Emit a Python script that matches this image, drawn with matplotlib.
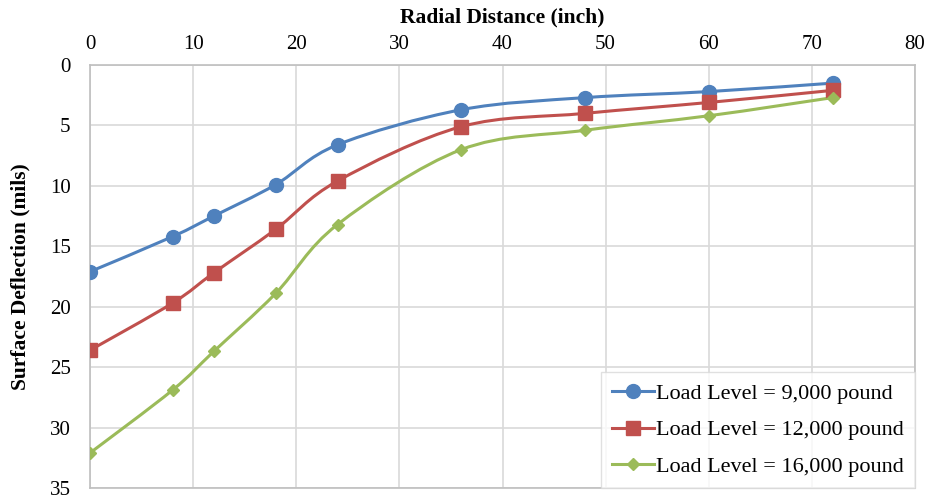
import matplotlib
matplotlib.use("Agg")
import matplotlib.pyplot as plt
from matplotlib.path import Path
from matplotlib.patches import PathPatch
from matplotlib.lines import Line2D
import numpy as np

radial = [0, 8, 12, 18, 24, 36, 48, 60, 72]
load_9000 = [17.1, 14.2, 12.5, 9.9, 6.6, 3.7, 2.7, 2.2, 1.5]
load_12000 = [23.6, 19.7, 17.2, 13.6, 9.6, 5.1, 4.0, 3.1, 2.1]
load_16000 = [32.1, 26.9, 23.7, 18.9, 13.2, 7.0, 5.4, 4.2, 2.7]
labels = ["Load Level = 9,000 pound", "Load Level = 12,000 pound", "Load Level = 16,000 pound"]
colors = ["#4F81BD", "#C0504D", "#9BBB59"]
markers = ["o", "s", "D"]
msizes = [10, 9.5, 6.5]

plt.rcParams['font.family'] = ['Liberation Serif', 'DejaVu Serif']

fig = plt.figure(figsize=(9.27, 4.96), dpi=100)
ax = fig.add_axes([90/927, 1-488/496, (915-90)/927, (488-65)/496])


def smooth_path(x, y):
    x = np.asarray(x, float); y = np.asarray(y, float)
    n = len(x)
    verts = [(x[0], y[0])]
    codes = [Path.MOVETO]
    for i in range(n - 1):
        p0 = np.array([x[max(i-1, 0)], y[max(i-1, 0)]])
        p1 = np.array([x[i], y[i]])
        p2 = np.array([x[i+1], y[i+1]])
        p3 = np.array([x[min(i+2, n-1)], y[min(i+2, n-1)]])
        c1 = p1 + (p2 - p0) / 6.0
        c2 = p2 - (p3 - p1) / 6.0
        verts += [tuple(c1), tuple(c2), tuple(p2)]
        codes += [Path.CURVE4] * 3
    return Path(verts, codes)


handles = []
for ys, c, m, ms, lab in zip([load_9000, load_12000, load_16000], colors, markers, msizes, labels):
    patch = PathPatch(smooth_path(radial, ys), facecolor='none', edgecolor=c, lw=2.2, zorder=3)
    ax.add_patch(patch)
    ax.plot(radial, ys, linestyle='none', marker=m, color=c, markersize=ms, zorder=4)
    handles.append(Line2D([], [], color=c, lw=2.2, marker=m, markersize=ms, label=lab))

ax.set_xlim(0, 80)
ax.set_ylim(35, 0)
ax.set_xticks(np.arange(0, 81, 10))
ax.set_yticks(np.arange(0, 36, 5))
ax.xaxis.tick_top()
ax.xaxis.set_label_position('top')
ax.tick_params(length=0, labelsize=15, colors='black')
ax.tick_params(axis='x', pad=8)
ax.tick_params(axis='y', pad=14)
ax.grid(True, color='#D9D9D9', lw=1.2)
ax.set_axisbelow(True)
for s in ax.spines.values():
    s.set_color('#BFBFBF')
    s.set_linewidth(1.2)

ax.set_xlabel("Radial Distance (inch)", fontsize=15.5, fontweight='bold', labelpad=9)
ax.set_ylabel("Surface Deflection (mils)", fontsize=15.5, fontweight='bold', labelpad=14)

leg = ax.legend(handles=handles, loc='lower right', fontsize=16, frameon=True,
                fancybox=False, edgecolor='#D9D9D9', handlelength=1.9, handletextpad=0.1,
                borderaxespad=0.0, labelspacing=0.72, borderpad=0.5)
leg.get_frame().set_linewidth(1.0)

fig.savefig("out.png", dpi=100)
